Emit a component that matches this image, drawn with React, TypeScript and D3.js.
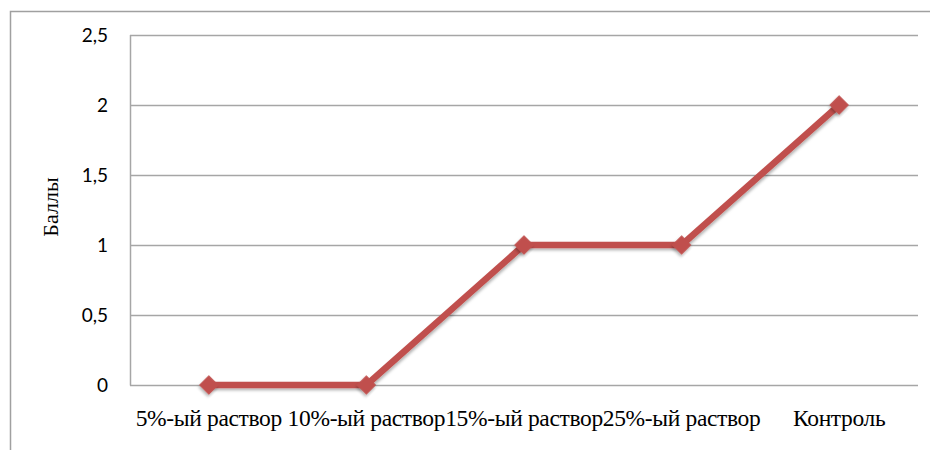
import React, { useEffect, useRef } from "react";
import * as d3 from "d3";

const categories = ["5%-ый раствор", "10%-ый раствор", "15%-ый раствор", "25%-ый раствор", "Контроль"];
const scores = [0, 0, 1, 1, 2];
const yTicks = [0, 0.5, 1, 1.5, 2, 2.5];
const yTitle = "Баллы";

const App: React.FC = () => {
  const svgRef = useRef<SVGSVGElement>(null);

  useEffect(() => {
    if (!svgRef.current) return;
    const root = d3.select(svgRef.current);
    root.selectAll("*").remove();

    const width = 930;
    const height = 450;
    const margin = { top: 35, right: 12, bottom: 65, left: 130 };
    const innerW = width - margin.left - margin.right;
    const innerH = height - margin.top - margin.bottom;

    const defs = root.append("defs");
    const f = defs.append("filter").attr("id", "shadow").attr("x", "-20%").attr("y", "-20%").attr("width", "140%").attr("height", "160%");
    f.append("feDropShadow").attr("dx", 1).attr("dy", 2).attr("stdDeviation", 1.5).attr("flood-color", "#000").attr("flood-opacity", 0.3);

    // outer chart frame
    root
      .append("rect")
      .attr("x", 10.5)
      .attr("y", 11.5)
      .attr("width", width)
      .attr("height", height)
      .attr("fill", "white")
      .attr("stroke", "#a0a0a0")
      .attr("stroke-width", 1.5);

    const g = root.append("g").attr("transform", `translate(${margin.left},${margin.top})`);

    const x = d3.scaleBand().domain(categories).range([0, innerW]);
    const y = d3.scaleLinear().domain([0, 2.5]).range([innerH, 0]);

    // gridlines
    g.append("g")
      .selectAll("line")
      .data(yTicks)
      .enter()
      .append("line")
      .attr("x1", 0)
      .attr("x2", innerW)
      .attr("y1", (d) => Math.round(y(d)) + 0.5)
      .attr("y2", (d) => Math.round(y(d)) + 0.5)
      .attr("stroke", "#a6a6a6")
      .attr("stroke-width", 1.5);

    g.append("line")
      .attr("x1", 0.5)
      .attr("x2", 0.5)
      .attr("y1", 0)
      .attr("y2", innerH + 0.5)
      .attr("stroke", "#a6a6a6")
      .attr("stroke-width", 1.5);

    const fmt = (d: number) => String(d).replace(".", ",");

    g.append("g")
      .selectAll("text")
      .data(yTicks)
      .enter()
      .append("text")
      .attr("x", -22)
      .attr("y", (d) => y(d))
      .attr("dy", "0.35em")
      .attr("text-anchor", "end")
      .attr("font-family", "Lato, 'Open Sans', 'Liberation Sans', sans-serif")
      .attr("font-size", 19)
      .attr("fill", "#000")
      .text((d) => fmt(d));

    g.append("g")
      .selectAll("text")
      .data(categories)
      .enter()
      .append("text")
      .attr("x", (d) => x(d)! + x.bandwidth() / 2)
      .attr("y", innerH + 41)
      .attr("text-anchor", "middle")
      .attr("font-family", "'Liberation Serif', 'DejaVu Serif', serif")
      .attr("font-size", 23.5)
      .attr("letter-spacing", "-0.35")
      .attr("fill", "#000")
      .text((d) => d);

    root
      .append("text")
      .attr("transform", `translate(58,${margin.top + innerH / 2 - 3}) rotate(-90)`)
      .attr("text-anchor", "middle")
      .attr("font-family", "'Liberation Serif', 'DejaVu Serif', serif")
      .attr("font-size", 22)
      .attr("fill", "#000")
      .text(yTitle);

    const line = d3
      .line<number>()
      .x((_, i) => x(categories[i])! + x.bandwidth() / 2)
      .y((d) => y(d));

    g.append("path")
      .datum(scores)
      .attr("d", line)
      .attr("fill", "none")
      .attr("stroke", "#c0504d")
      .attr("stroke-width", 6.5)
      .attr("stroke-linejoin", "round")
      .attr("filter", "url(#shadow)");

    const sym = d3.symbol().type(d3.symbolSquare).size(190);
    g.append("g")
      .selectAll("path")
      .data(scores)
      .enter()
      .append("path")
      .attr("d", sym)
      .attr("transform", (d, i) => `translate(${x(categories[i])! + x.bandwidth() / 2},${y(d)}) rotate(45)`)
      .attr("fill", "#c0504d")
      .attr("filter", "url(#shadow)");
  }, []);

  return (
    <svg
      ref={svgRef}
      width={930}
      height={450}
      style={{ position: "absolute", left: 0, top: 0, display: "block" }}
    />
  );
};

export default App;
